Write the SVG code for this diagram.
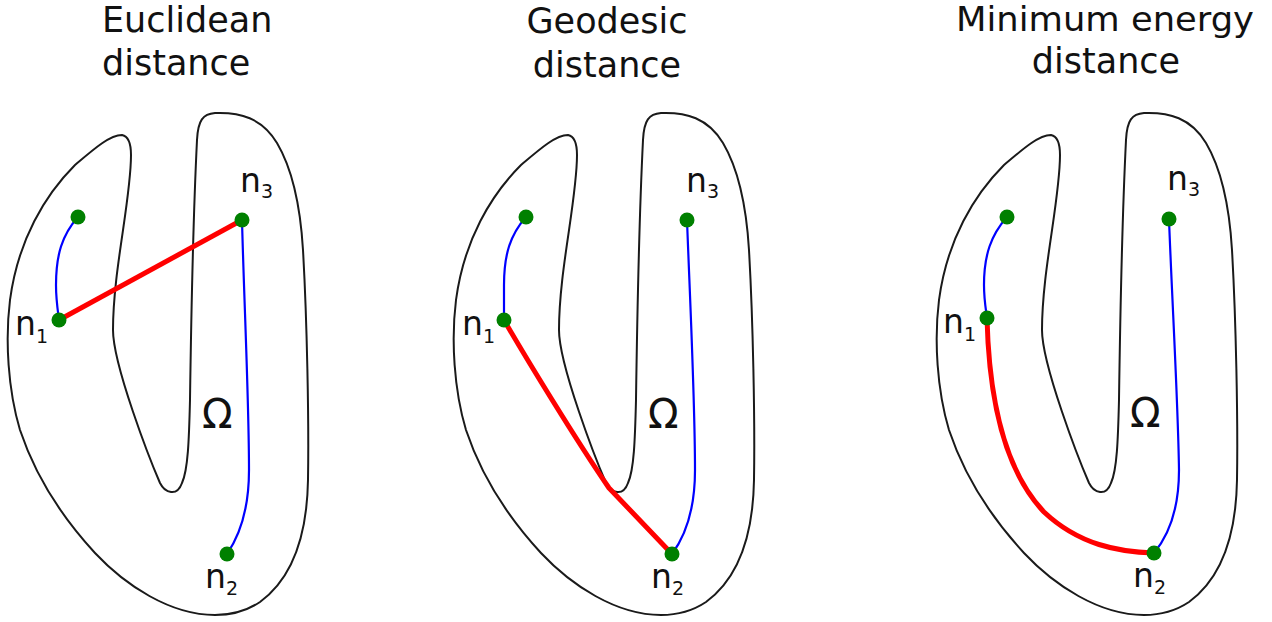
<svg xmlns="http://www.w3.org/2000/svg" xmlns:xlink="http://www.w3.org/1999/xlink" width="1272" height="622" viewBox="0 0 1272 622">
<style>
.title{font-family:"DejaVu Sans",sans-serif;font-size:35px;fill:#111}
.lbl{font-family:"DejaVu Sans",sans-serif;font-size:33px;fill:#111}
.sub{font-size:19px}
.omega{font-family:"DejaVu Sans",sans-serif;font-size:40px;fill:#111}
.shape{fill:none;stroke:#1a1a1a;stroke-width:2}
.blue{fill:none;stroke:#0000ff;stroke-width:2.2}
.red{fill:none;stroke:#ff0000;stroke-width:5;stroke-linejoin:round}
.node{fill:#008000}
</style>
<defs>
<path id="omegaShape" d="M122,135 C127,136 131,142 131,155 C131,200 113,270 113,330 C113,365 150,460 160,483 C165,493 177,497 182,483 C188,470 189,440 190,400 C191,330 194,200 197,140 C198,120 203,114 215,113 C240,112 262,118 277,143 C290,165 300,200 303,250 C307,320 309,420 308,480 C307,540 290,580 260,602 C245,612 230,615 215,615 C170,615 125,585 95,553 C60,515 35,475 20,430 C8,390 5,340 10,300 C18,240 45,195 75,165 C95,148 110,135 122,135 Z"/>
</defs>
<rect width="1272" height="622" fill="#fff"/>

<g id="titles">
<text class="title" x="102" y="32">Euclidean</text>
<text class="title" x="102" y="75">distance</text>
<text class="title" x="607" y="33" text-anchor="middle">Geodesic</text>
<text class="title" x="607" y="77" text-anchor="middle">distance</text>
<text class="title" x="1105" y="31" text-anchor="middle" style="font-size:33px" textLength="298" lengthAdjust="spacingAndGlyphs">Minimum energy</text>
<text class="title" x="1106" y="73" text-anchor="middle">distance</text>
</g>

<!-- Panel 1: Euclidean -->
<g id="panel1">
<g id="domain1"><use xlink:href="#omegaShape" class="shape"/><text class="omega" x="202" y="428">Ω</text></g>
<g id="connectors1">
<path class="blue" d="M78,217 C62,235 56,255 56,285 C56,300 58,312 59,320"/>
<path class="blue" d="M242,220 C244,300 249,400 249,470 C249,510 240,535 227,554"/>
<path class="red" d="M59,320 L242,220"/>
</g>
<g id="p1_n0"><circle class="node" cx="78" cy="217" r="7.5"/></g>
<g id="p1_n1"><circle class="node" cx="59" cy="320" r="7.5"/><text class="lbl" x="15" y="335">n<tspan class="sub" dy="8">1</tspan></text></g>
<g id="p1_n3"><circle class="node" cx="242" cy="220" r="7.5"/><text class="lbl" x="240" y="192">n<tspan class="sub" dy="6">3</tspan></text></g>
<g id="p1_n2"><circle class="node" cx="227" cy="554" r="7.5"/><text class="lbl" x="205" y="588">n<tspan class="sub" dy="7">2</tspan></text></g>
</g>

<!-- Panel 2: Geodesic -->
<g id="panel2" transform="translate(446,0)">
<g id="domain2"><use xlink:href="#omegaShape" class="shape"/><text class="omega" x="202" y="428">Ω</text></g>
<g id="connectors2">
<path class="blue" d="M80,217 C64,235 58,255 58,285 C58,300 58,312 58,320"/>
<path class="blue" d="M241,220 C244,300 249,400 249,470 C249,510 240,535 226,554"/>
<path class="red" d="M58,320 C80,358 130,440 163,488 L226,554"/>
</g>
<g id="p2_n0"><circle class="node" cx="80" cy="217" r="7.5"/></g>
<g id="p2_n1"><circle class="node" cx="58" cy="320" r="7.5"/><text class="lbl" x="16" y="335">n<tspan class="sub" dy="8">1</tspan></text></g>
<g id="p2_n3"><circle class="node" cx="241" cy="220" r="7.5"/><text class="lbl" x="240" y="192">n<tspan class="sub" dy="6">3</tspan></text></g>
<g id="p2_n2"><circle class="node" cx="226" cy="554" r="7.5"/><text class="lbl" x="205" y="588">n<tspan class="sub" dy="7">2</tspan></text></g>
</g>

<!-- Panel 3: Minimum energy -->
<g id="panel3" transform="translate(929,0)">
<g id="domain3"><use xlink:href="#omegaShape" class="shape"/><text class="omega" x="201" y="427">Ω</text></g>
<g id="connectors3">
<path class="blue" d="M78,217 C62,235 55,255 55,285 C55,300 57,310 58,318"/>
<path class="blue" d="M240,219 C243,300 249,400 250,470 C250,510 240,535 225,553"/>
<path class="red" d="M58,318 C60,400 75,470 115,512 C150,545 190,552 225,553"/>
</g>
<g id="p3_n0"><circle class="node" cx="78" cy="217" r="7.5"/></g>
<g id="p3_n1"><circle class="node" cx="58" cy="318" r="7.5"/><text class="lbl" x="14" y="333">n<tspan class="sub" dy="8">1</tspan></text></g>
<g id="p3_n3"><circle class="node" cx="240" cy="219" r="7.5"/><text class="lbl" x="238" y="190">n<tspan class="sub" dy="6">3</tspan></text></g>
<g id="p3_n2"><circle class="node" cx="225" cy="553" r="7.5"/><text class="lbl" x="204" y="587">n<tspan class="sub" dy="7">2</tspan></text></g>
</g>
</svg>
